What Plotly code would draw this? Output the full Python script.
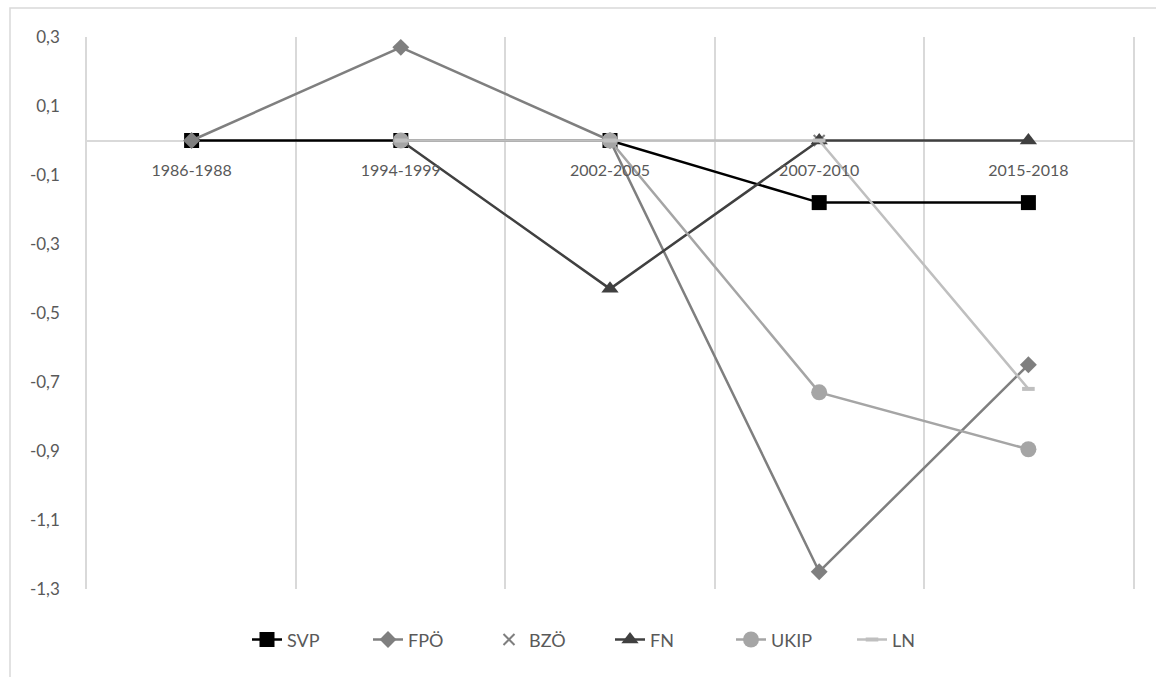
import plotly.graph_objects as go

# Periods on the category axis
periods = ["1986-1988", "1994-1999", "2002-2005", "2007-2010", "2015-2018"]

# Series values per period (None = party not present)
svp = [0, 0, 0, -0.18, -0.18]
fpo = [0, 0.27, 0, -1.25, -0.65]
bzo = [None, None, None, 0, None]
fn = [None, 0, -0.43, 0, 0]
ukip = [None, 0, 0, -0.73, -0.895]
ln = [None, 0, 0, 0, -0.72]

# Y-axis ticks and their labels (decimal comma)
y_ticks = [0.3, 0.1, -0.1, -0.3, -0.5, -0.7, -0.9, -1.1, -1.3]
y_tick_labels = ["0,3", "0,1", "-0,1", "-0,3", "-0,5", "-0,7", "-0,9", "-1,1", "-1,3"]

FONT = "Lato, 'Open Sans', sans-serif"
TEXT_GREY = "#595959"
GRID_GREY = "#D9D9D9"

fig = go.Figure()

fig.add_trace(go.Scatter(
    x=periods, y=svp, name="SVP", mode="lines+markers",
    line=dict(color="#000000", width=2.5),
    marker=dict(symbol="square", size=15, color="#000000"),
))
fig.add_trace(go.Scatter(
    x=periods, y=fpo, name="FPÖ", mode="lines+markers",
    line=dict(color="#7F7F7F", width=2.5),
    marker=dict(symbol="diamond", size=13, color="#7F7F7F"),
))
fig.add_trace(go.Scatter(
    x=periods, y=bzo, name="BZÖ", mode="markers",
    marker=dict(symbol="x-thin", size=11, color="#7F7F7F",
                line=dict(color="#7F7F7F", width=2)),
))
fig.add_trace(go.Scatter(
    x=periods, y=fn, name="FN", mode="lines+markers",
    line=dict(color="#404040", width=2.5),
    marker=dict(symbol="triangle-up", size=15, color="#404040"),
))
fig.add_trace(go.Scatter(
    x=periods, y=ukip, name="UKIP", mode="lines+markers",
    line=dict(color="#A5A5A5", width=2.5),
    marker=dict(symbol="circle", size=16, color="#A5A5A5"),
))
fig.add_trace(go.Scatter(
    x=periods, y=ln, name="LN", mode="lines+markers",
    line=dict(color="#BFBFBF", width=2.5),
    marker=dict(symbol="line-ew", size=9, color="#BFBFBF",
                line=dict(color="#BFBFBF", width=4)),
))

y_min, y_max = -1.3, 0.3
zero_pos = (0 - y_min) / (y_max - y_min)

fig.update_layout(
    width=1156, height=677,
    margin=dict(l=87, r=23, t=37, b=88),
    paper_bgcolor="white", plot_bgcolor="white",
    font=dict(family=FONT, color=TEXT_GREY, size=16),
    showlegend=True,
    legend=dict(
        orientation="h", x=0.50, xanchor="center", y=-0.092, yanchor="middle",
        font=dict(size=18, color=TEXT_GREY), itemsizing="trace",
        traceorder="normal", entrywidth=76, entrywidthmode="pixels",
    ),
    xaxis=dict(
        type="category", range=[-0.5, 4.5],
        tickson="boundaries", showgrid=True, gridcolor=GRID_GREY, gridwidth=1.5,
        anchor="free", position=zero_pos,
        showline=False, zeroline=False,
        ticks="", ticklabelstandoff=18,
        tickfont=dict(size=16, color=TEXT_GREY),
    ),
    yaxis=dict(
        range=[y_min, y_max], tickvals=y_ticks, ticktext=y_tick_labels,
        showgrid=False, zeroline=True, zerolinecolor=GRID_GREY, zerolinewidth=1.5,
        showline=True, linecolor=GRID_GREY, linewidth=1.5, mirror=True,
        ticks="outside", ticklen=22, tickcolor="rgba(0,0,0,0)",
        tickfont=dict(size=17, color=TEXT_GREY),
    ),
    shapes=[
        # chart border
        dict(type="rect", xref="paper", yref="paper",
             x0=(10 - 87) / 1046, x1=1.2, y0=-0.3, y1=1 + (37 - 8) / 552,
             line=dict(color=GRID_GREY, width=1.5), fillcolor="rgba(0,0,0,0)",
             layer="below"),
    ],
)

fig.write_html("out.html")
